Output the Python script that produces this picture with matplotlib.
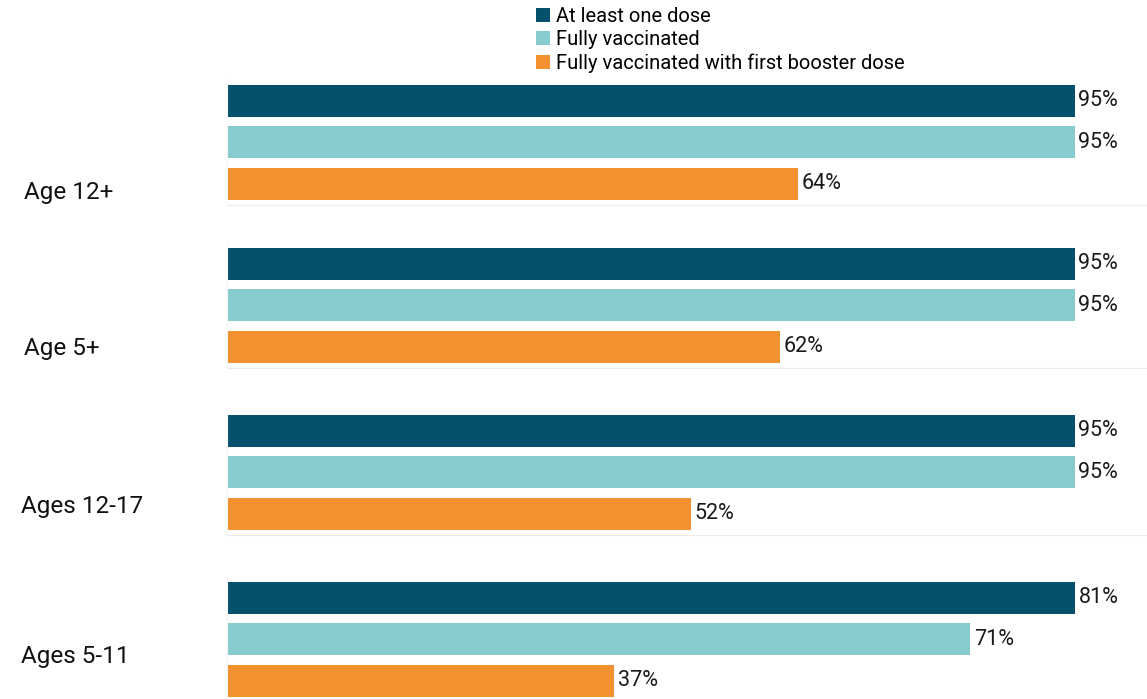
import matplotlib.pyplot as plt
from matplotlib.patches import Patch

plt.rcParams['font.family'] = ['Roboto', 'DejaVu Sans']

groups = ['Age 12+', 'Age 5+', 'Ages 12-17', 'Ages 5-11']
series = ['At least one dose', 'Fully vaccinated', 'Fully vaccinated with first booster dose']
one_dose = [95, 95, 95, 81]
fully = [95, 95, 95, 71]
booster = [64, 62, 52, 37]

colors = ['#05506A', '#87CBCE', '#F3902F']

W, H = 1147, 699
fig = plt.figure(figsize=(W / 100, H / 100), dpi=100)

# pixel layout of each small panel (top edge) and the group label position
panel_top = [80, 243, 410, 577]
label_y = [192, 349, 506, 657]
label_x = [24, 24, 21, 21]
left_px = 227
panel_h = 124.5

for i, g in enumerate(groups):
    vals = [one_dose[i], fully[i], booster[i]]
    ax = fig.add_axes([left_px / W, 1 - (panel_top[i] + panel_h) / H,
                       (W - left_px) / W, panel_h / H])
    ax.barh(range(3), vals, height=0.77, color=colors, edgecolor='none')
    ax.set_ylim(2.5, -0.5)
    ax.set_xlim(0, max(vals) * 920 / 848)
    for j, v in enumerate(vals):
        ax.annotate('%d%%' % v, (v, j), xytext=(2.5, 0), textcoords='offset points',
                    ha='left', va='center', fontsize=15.5, color='#1a1a1a')
    ax.set_xticks([])
    ax.set_yticks([])
    for s in ['top', 'right']:
        ax.spines[s].set_visible(False)
    ax.spines['bottom'].set_color('#ececec')
    ax.spines['left'].set_color('#f4f4f4')
    fig.text(label_x[i] / W, 1 - label_y[i] / H, g, ha='left', va='center',
             fontsize=17.5, color='#111111')

handles = [Patch(facecolor=c, edgecolor='none') for c in colors]
fig.legend(handles, series, loc='upper left', bbox_to_anchor=(536 / W, 1 - 7 / H),
           frameon=False, fontsize=14.5, handlelength=0.7, handleheight=0.7,
           handletextpad=0.3, labelspacing=0.22, borderpad=0, borderaxespad=0)

fig.savefig('out.png', dpi=100)
